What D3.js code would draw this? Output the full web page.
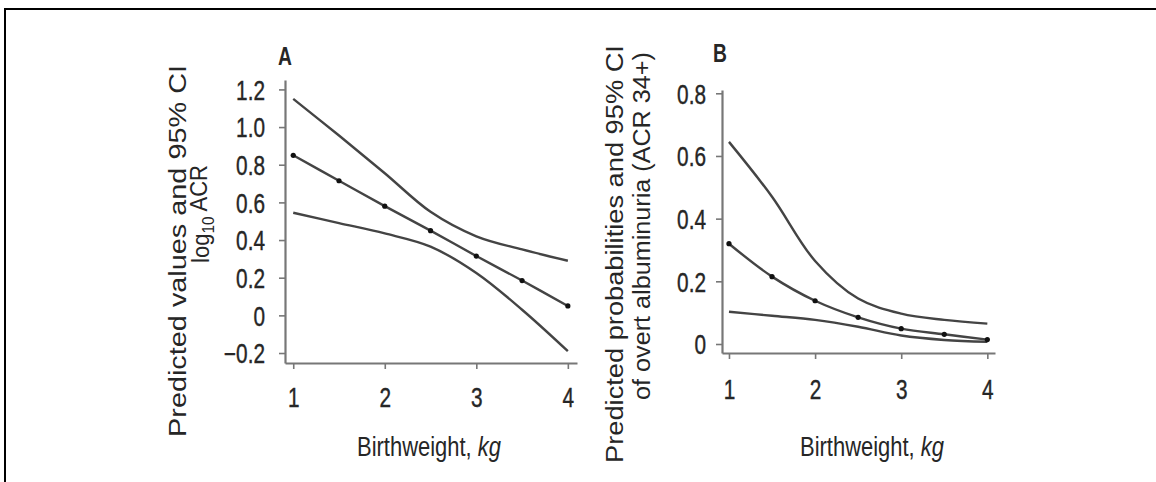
<!DOCTYPE html>
<html>
<head>
<meta charset="utf-8">
<script src="https://cdn.jsdelivr.net/npm/d3@7"></script>
<style>
  html, body { margin: 0; padding: 0; background: #fff; }
  svg { display: block; }
  text { font-family: "Liberation Sans", Arial, Helvetica, sans-serif; fill: #262626; }
</style>
</head>
<body>
<svg id="chart" width="1156" height="482"></svg>
<script>
// ---------------- data ----------------
const birthweight = [1, 1.5, 2, 2.5, 3, 3.5, 4];

// Panel A: predicted log10 ACR and 95% CI
const aPred  = [0.85, 0.715, 0.58, 0.45, 0.315, 0.185, 0.05];
const aUpper = [1.15, 0.955, 0.755, 0.55, 0.42, 0.35, 0.29];
const aLower = [0.545, 0.49, 0.435, 0.365, 0.225, 0.03, -0.19];

// Panel B: predicted probability of overt albuminuria and 95% CI
const bPred  = [0.32, 0.215, 0.138, 0.085, 0.049, 0.031, 0.014];
const bUpper = [0.645, 0.47, 0.265, 0.145, 0.097, 0.077, 0.065];
const bLower = [0.103, 0.09, 0.077, 0.055, 0.027, 0.013, 0.007];

const xTicks = [1, 2, 3, 4];
const xTickLabels = ["1", "2", "3", "4"];
const aYTicks = [-0.2, 0, 0.2, 0.4, 0.6, 0.8, 1.0, 1.2];
const aYTickLabels = ["\u22120.2", "0", "0.2", "0.4", "0.6", "0.8", "1.0", "1.2"];
const bYTicks = [0, 0.2, 0.4, 0.6, 0.8];
const bYTickLabels = ["0", "0.2", "0.4", "0.6", "0.8"];

// ---------------- drawing ----------------
const SX = 0.77; // horizontal squeeze of the original figure's lettering
const svg = d3.select("#chart");

// frame lines
svg.append("path").attr("d", "M4,9H1156M5,9V482")
  .attr("fill", "none").attr("stroke", "#000").attr("stroke-width", 2);

function panel(cfg) {
  const x = d3.scaleLinear().domain(cfg.xDomain).range(cfg.xRange);
  const y = d3.scaleLinear().domain(cfg.yDomain).range(cfg.yRange);
  const g = svg.append("g");

  // axes
  const ax = g.append("g").attr("transform", `translate(0,${cfg.yRange[0]})`)
    .call(d3.axisBottom(x).tickValues(xTicks).tickSize(6).tickSizeOuter(0)
      .tickFormat((d, i) => xTickLabels[i]));
  const ay = g.append("g").attr("transform", `translate(${cfg.xRange[0]},0)`)
    .call(d3.axisLeft(y).tickValues(cfg.yTicks).tickSize(6).tickSizeOuter(0)
      .tickFormat((d, i) => cfg.yTickLabels[i]));
  [ax, ay].forEach(a => {
    a.select(".domain").attr("stroke", "#777").attr("stroke-width", 2.2);
    a.selectAll(".tick line").attr("stroke", "#777").attr("stroke-width", 1.6);
    a.selectAll("text").attr("font-size", 27).attr("fill", "#262626")
      .attr("stroke", "#262626").attr("stroke-width", 0.4)
      .attr("font-family", '"Liberation Sans", Arial, sans-serif');
  });
  ax.selectAll("text").attr("y", null).attr("dy", "0.36em")
    .attr("transform", `translate(0,${cfg.xLabOff}) scale(${SX},1)`);
  ay.selectAll("text").attr("x", null).attr("dy", "0.36em")
    .attr("text-anchor", "end")
    .attr("transform", `translate(${-cfg.yLabOff},0) scale(${SX},1)`);

  // curves
  const line = d3.line().x((d, i) => x(birthweight[i])).y(d => y(d)).curve(d3.curveCatmullRom.alpha(0.5));
  [cfg.upper, cfg.lower, cfg.pred].forEach(s => {
    g.append("path").datum(s).attr("d", line)
      .attr("fill", "none").attr("stroke", "#444").attr("stroke-width", 2.4);
  });
  g.selectAll("circle.pt").data(cfg.pred).join("circle").attr("class", "pt")
    .attr("cx", (d, i) => x(birthweight[i])).attr("cy", d => y(d))
    .attr("r", 2.6).attr("fill", "#111");

  // panel letter
  g.append("text").text(cfg.letter).attr("font-weight", "bold").attr("font-size", 25)
    .attr("fill", "#111")
    .attr("transform", `translate(${cfg.letterPos[0]},${cfg.letterPos[1]}) scale(${SX},1)`);

  // x title
  const xt = g.append("text").attr("text-anchor", "middle").attr("font-size", 28.5)
    .attr("transform", `translate(${cfg.xTitlePos[0]},${cfg.xTitlePos[1]}) scale(${SX},1)`);
  xt.append("tspan").text("Birthweight, ");
  xt.append("tspan").text("kg").attr("font-style", "italic");

  // y title lines (rotated; stretched along their length to the measured span)
  cfg.yTitle.forEach(t => {
    const tx = g.append("text").attr("text-anchor", "middle").attr("font-size", t.fs);
    t.parts.forEach(p => {
      const ts = tx.append("tspan").text(p.s);
      if (p.sub) ts.attr("font-size", t.fs * 0.7).attr("dy", "0.3em");
      if (p.after) ts.attr("dy", "-0.3em");
    });
    const natural = tx.node().getComputedTextLength() || t.len;
    const k = t.len / natural;
    tx.attr("transform", `translate(${t.x},${t.y}) scale(${SX},${k}) rotate(-90)`);
  });
}

panel({
  letter: "A", letterPos: [278, 65],
  xDomain: [0.91, 4.1], xRange: [285, 577],
  yDomain: [-0.253, 1.25], yRange: [363, 80],
  yTicks: aYTicks, yTickLabels: aYTickLabels,
  pred: aPred, upper: aUpper, lower: aLower,
  xLabOff: 34, yLabOff: 20,
  xTitlePos: [429, 456],
  yTitle: [
    { x: 186, y: 251, fs: 30.5, len: 372, parts: [{ s: "Predicted values and 95% CI" }] },
    { x: 209, y: 214, fs: 30.5, len: 98, parts: [{ s: "log" }, { s: "10", sub: true }, { s: " ACR", after: true }] }
  ]
});

panel({
  letter: "B", letterPos: [713, 62],
  xDomain: [0.919, 4.089], xRange: [722, 995],
  yDomain: [-0.0287, 0.8105], yRange: [353, 90],
  yTicks: bYTicks, yTickLabels: bYTickLabels,
  pred: bPred, upper: bUpper, lower: bLower,
  xLabOff: 36, yLabOff: 16,
  xTitlePos: [872, 456],
  yTitle: [
    { x: 623, y: 254, fs: 30, len: 418, parts: [{ s: "Predicted probabilities and 95% CI" }] },
    { x: 650, y: 226, fs: 30, len: 348, parts: [{ s: "of overt albuminuria (ACR 34+)" }] }
  ]
});
</script>
</body>
</html>
